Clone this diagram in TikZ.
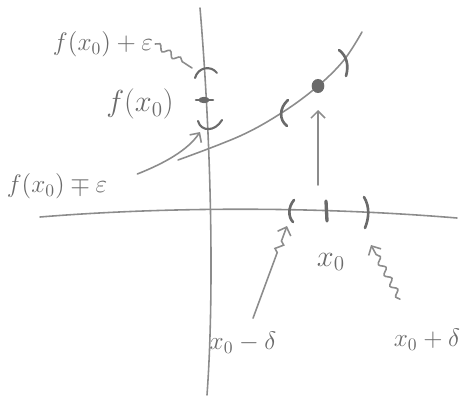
\documentclass[tikz,border=0pt]{standalone}
\usepackage{amsmath, amssymb}
\usetikzlibrary{arrows.meta, decorations.pathmorphing}
\definecolor{pencil}{HTML}{8C8C8C}
\definecolor{pencil-dark}{HTML}{6A6A6A}

\begin{document}
\begin{tikzpicture}[x=0.02cm, y=-0.02cm,
    every node/.style={font=\Large, text=pencil-dark, inner sep=1pt},
    stroke/.style={draw=pencil, line width=0.9pt, line cap=round},
    bracket/.style={draw=pencil-dark, line width=1.5pt, line cap=round},
    tip/.style={-{Straight Barb[length=4pt, width=8pt]}},
    wiggle/.style={decorate, decoration={snake, amplitude=1.6pt,
        segment length=7pt, post length=5pt}}]
  \useasboundingbox (0,0) rectangle (474,399);

  % axes
  \coordinate (ytop) at (200,8);
  \coordinate (ybot) at (207,395);
  \coordinate (xleft) at (40,217);
  \coordinate (xright) at (457,218);
  \draw[stroke] (ytop) .. controls (212,150) and (214,300) .. (ybot);
  \draw[stroke] (xleft) .. controls (150,208) and (300,205) .. (xright);

  % graph of f, with the point (x0, f(x0))
  \coordinate (pt) at (318,86);
  \draw[stroke] plot[smooth, tension=0.6] coordinates
    {(178,160) (240,136) (283,112) (318,86) (344,60) (362,32)};
  \fill[pencil-dark] (pt) ellipse (3.6pt and 4pt);
  \draw[bracket] (288,100) .. controls (279,108) and (279,120) .. (287,126);
  \draw[bracket] (339,50) .. controls (347,56) and (349,66) .. (346,76);

  % epsilon band on the y-axis
  \coordinate (ycap) at (192,68);
  \coordinate (ycup) at (200,132);
  \draw[bracket, line width=1.2pt] (195,78) .. controls (198,67) and (211,65) .. (217,73);
  \draw[bracket] (196,100) -- (213,100);
  \fill[pencil-dark] (204,100) ellipse (3.2pt and 1.8pt);
  \draw[bracket, line width=1.2pt] (198,121) .. controls (201,132) and (215,132) .. (222,120);

  % delta interval on the x-axis
  \coordinate (lo) at (287,226);
  \coordinate (hi) at (371,245);
  \draw[bracket] (294,200) .. controls (288,207) and (288,217) .. (293,222);
  \draw[bracket, line width=1.9pt] (326,201) -- (327,221);
  \draw[bracket] (364,197) .. controls (370,207) and (369,218) .. (365,228);

  % labels
  \node (fplus) at (103,44) {$f(x_0)+\varepsilon$};
  \node[font=\LARGE] (fval) at (140,104) {$f(x_0)$};
  \node (fminus) at (57,186) {$f(x_0)\mp\varepsilon$};
  \node[font=\LARGE] (xzero) at (331,262) {$x_0$};
  \node (xminus) at (243,343) {$x_0-\delta$};
  \node (xplus) at (427,340) {$x_0+\delta$};

  % pointers
  \coordinate (up) at (318,185);
  \coordinate (uptip) at (318,110);
  \draw[stroke, tip] (up) -- (uptip);
  \draw[stroke, wiggle] (fplus.east) -- (ycap);
  \draw[stroke, tip] (fminus.east) ++(28,-12) .. controls (165,163) and (188,150) .. (ycup);
  \draw[stroke, tip, decorate, decoration={zigzag, amplitude=2pt,
      segment length=7pt, pre length=1.4cm, post length=6pt}]
    (xminus.north) ++(10,-12) -- (lo);
  \draw[stroke, tip, wiggle] (xplus.north) ++(-27,-28) -- (hi);
\end{tikzpicture}
\end{document}
